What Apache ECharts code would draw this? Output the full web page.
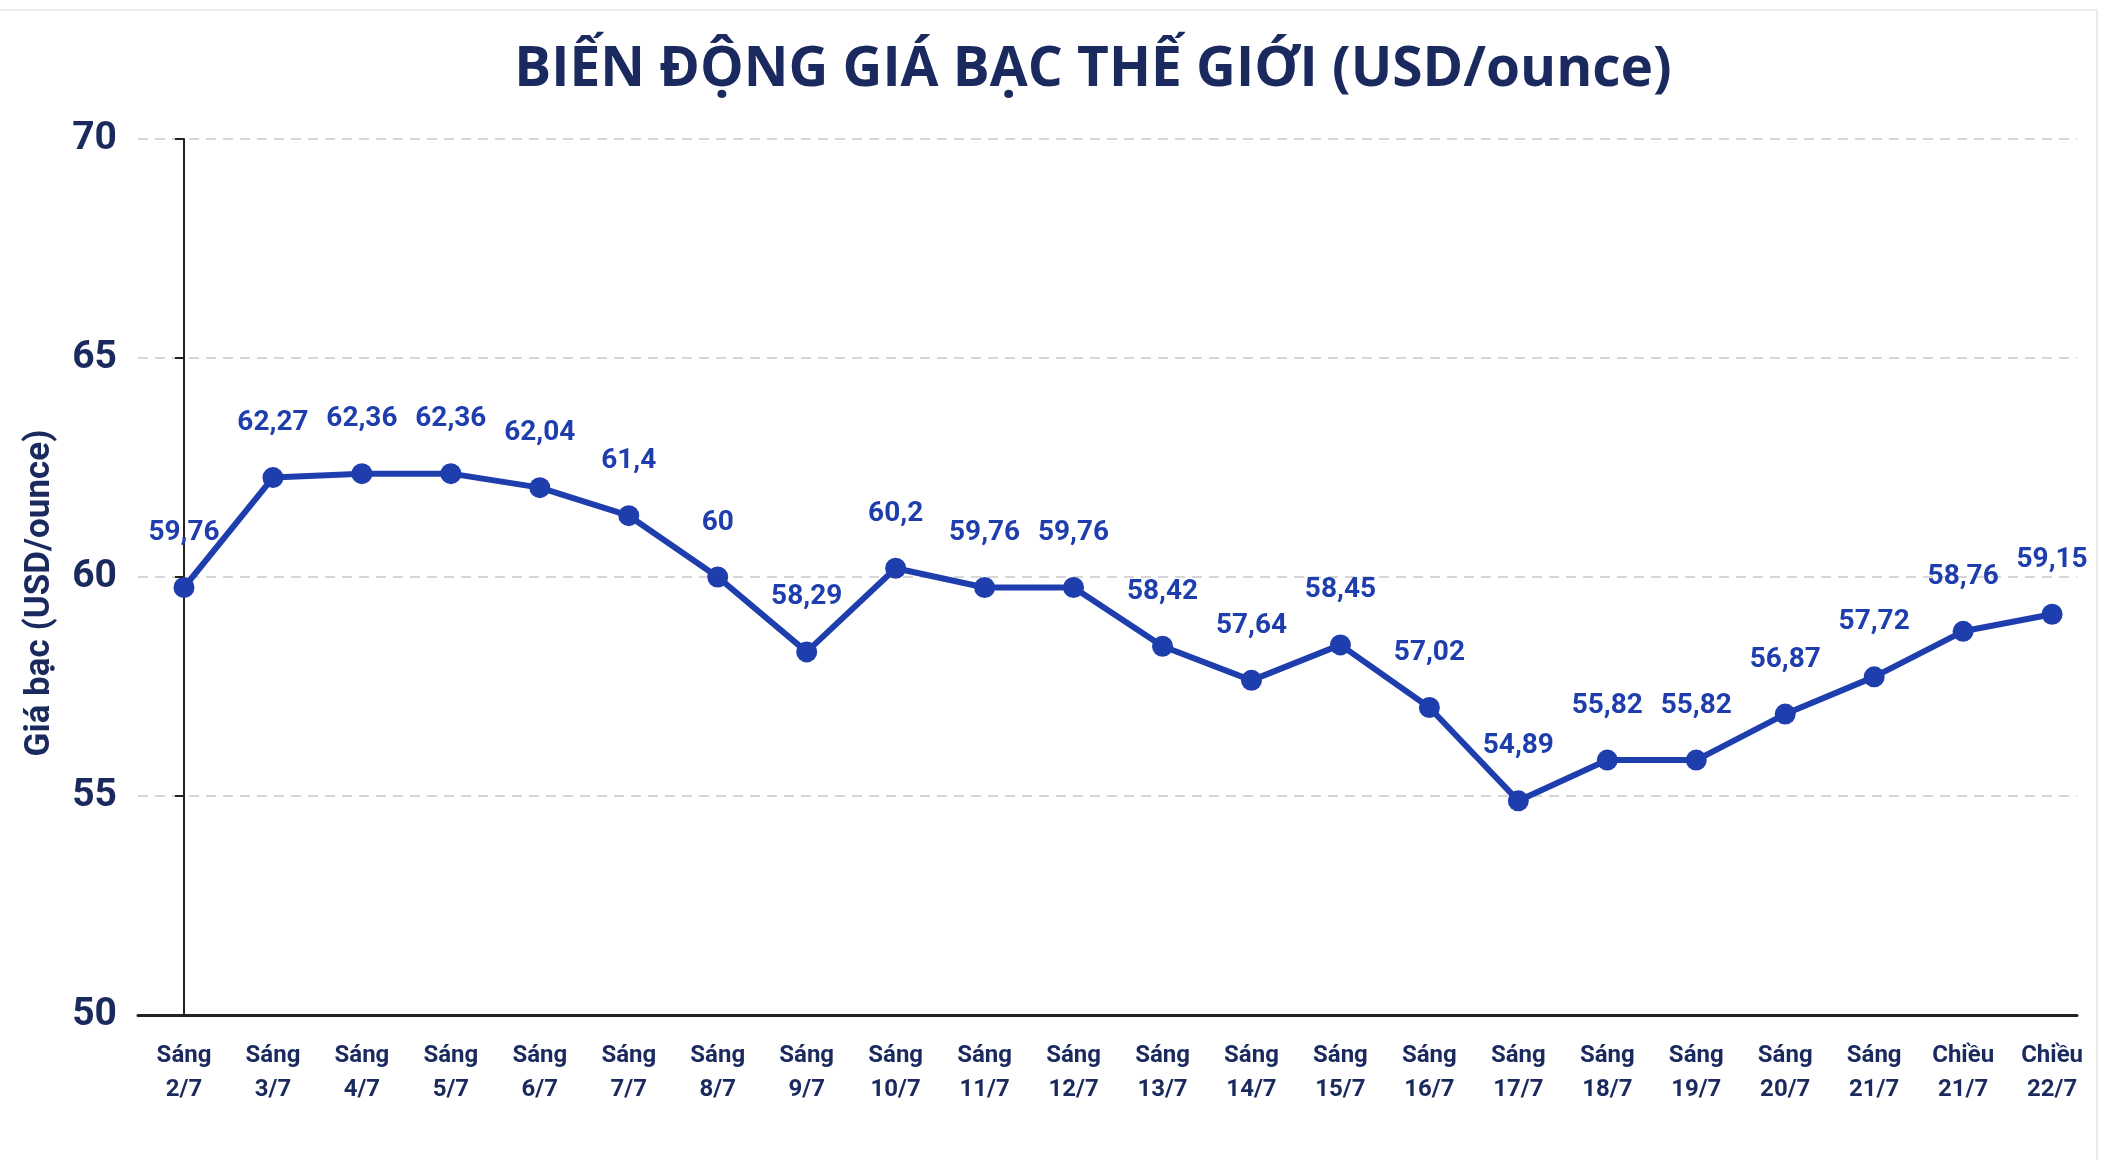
<!DOCTYPE html>
<html>
<head>
<meta charset="utf-8">
<script src="https://cdn.jsdelivr.net/npm/echarts@6/dist/echarts.min.js"></script>
<style>
html,body{margin:0;padding:0;background:#fff;}
#chart{width:2102px;height:1160px;}
</style>
</head>
<body>
<div id="chart"></div>
<script>
// nhãn trục x
var categories = ['Sáng\n2/7','Sáng\n3/7','Sáng\n4/7','Sáng\n5/7','Sáng\n6/7','Sáng\n7/7','Sáng\n8/7','Sáng\n9/7','Sáng\n10/7','Sáng\n11/7','Sáng\n12/7','Sáng\n13/7','Sáng\n14/7','Sáng\n15/7','Sáng\n16/7','Sáng\n17/7','Sáng\n18/7','Sáng\n19/7','Sáng\n20/7','Sáng\n21/7','Chiều\n21/7','Chiều\n22/7'];
// giá bạc
var prices = [59.76,62.27,62.36,62.36,62.04,61.4,60,58.29,60.2,59.76,59.76,58.42,57.64,58.45,57.02,54.89,55.82,55.82,56.87,57.72,58.76,59.15];
var yTicks = [50,55,60,65,70];

var navy = '#1b2a5e';
var blue = '#1f3ead';
var font = 'Roboto,sans-serif';

var chart = echarts.init(document.getElementById('chart'));
var points = [];
for (var i = 0; i < prices.length; i++) {
	points.push([i, prices[i]]);
}
var xPos = [];
for (var k = 0; k < categories.length; k++) xPos.push(k);

chart.setOption({
	backgroundColor: '#fff',
	animation: false,
	title: {
		text: 'BIẾN ĐỘNG GIÁ BẠC THẾ GIỚI (USD/ounce)',
		left: 1088,
		top: 38,
		textAlign: 'center',
		textStyle: {
			color: navy,
			fontFamily: '"Open Sans",sans-serif',
			fontWeight: 'bold',
			fontSize: 55
		}
	},
	// khung mờ
	graphic: [{
		type: 'rect',
		shape: {x: -10, y: 10, width: 2107, height: 1170},
		style: {fill: null, stroke: '#ebebeb', lineWidth: 2},
		silent: true
	}],
	grid: {
		left: 138,
		right: 25,
		top: 139,
		bottom: 145
	},
	xAxis: {
		type: 'value',
		min: -0.517,
		max: 21.28,
		splitLine: {show: false},
		axisLine: {
			onZero: false,
			lineStyle: {color: '#222', width: 3}
		},
		axisTick: {show: false},
		axisLabel: {
			customValues: xPos,
			formatter: function (v) { return categories[Math.round(v)]; },
			color: navy,
			fontFamily: font,
			fontWeight: 'bold',
			fontSize: 24,
			lineHeight: 34,
			margin: 24
		}
	},
	yAxis: {
		type: 'value',
		min: yTicks[0],
		max: yTicks[yTicks.length - 1],
		interval: 5,
		name: 'Giá bạc (USD/ounce)',
		nameLocation: 'middle',
		nameRotate: 90,
		nameGap: 80,
		nameTextStyle: {
			color: navy,
			fontFamily: font,
			fontWeight: 'bold',
			fontSize: 35,
			padding: [0, 32, 0, 0]
		},
		axisLine: {
			show: true,
			lineStyle: {color: '#222', width: 2}
		},
		axisTick: {
			show: true,
			length: 9,
			lineStyle: {color: '#222', width: 2}
		},
		splitLine: {
			show: true,
			lineStyle: {color: '#d6d6d6', type: [10, 7], width: 2}
		},
		axisLabel: {
			color: navy,
			fontFamily: font,
			fontWeight: 'bold',
			fontSize: 39,
			margin: 21
		}
	},
	series: [{
		name: 'Giá bạc',
		type: 'line',
		data: points,
		symbol: 'circle',
		symbolSize: 21,
		itemStyle: {color: blue},
		lineStyle: {color: blue, width: 6},
		label: {
			show: true,
			position: 'top',
			distance: 30,
			color: blue,
			fontFamily: font,
			fontWeight: 'bold',
			fontSize: 28,
			formatter: function (p) { return String(p.value[1]).replace('.', ','); }
		}
	}]
});
</script>
</body>
</html>
